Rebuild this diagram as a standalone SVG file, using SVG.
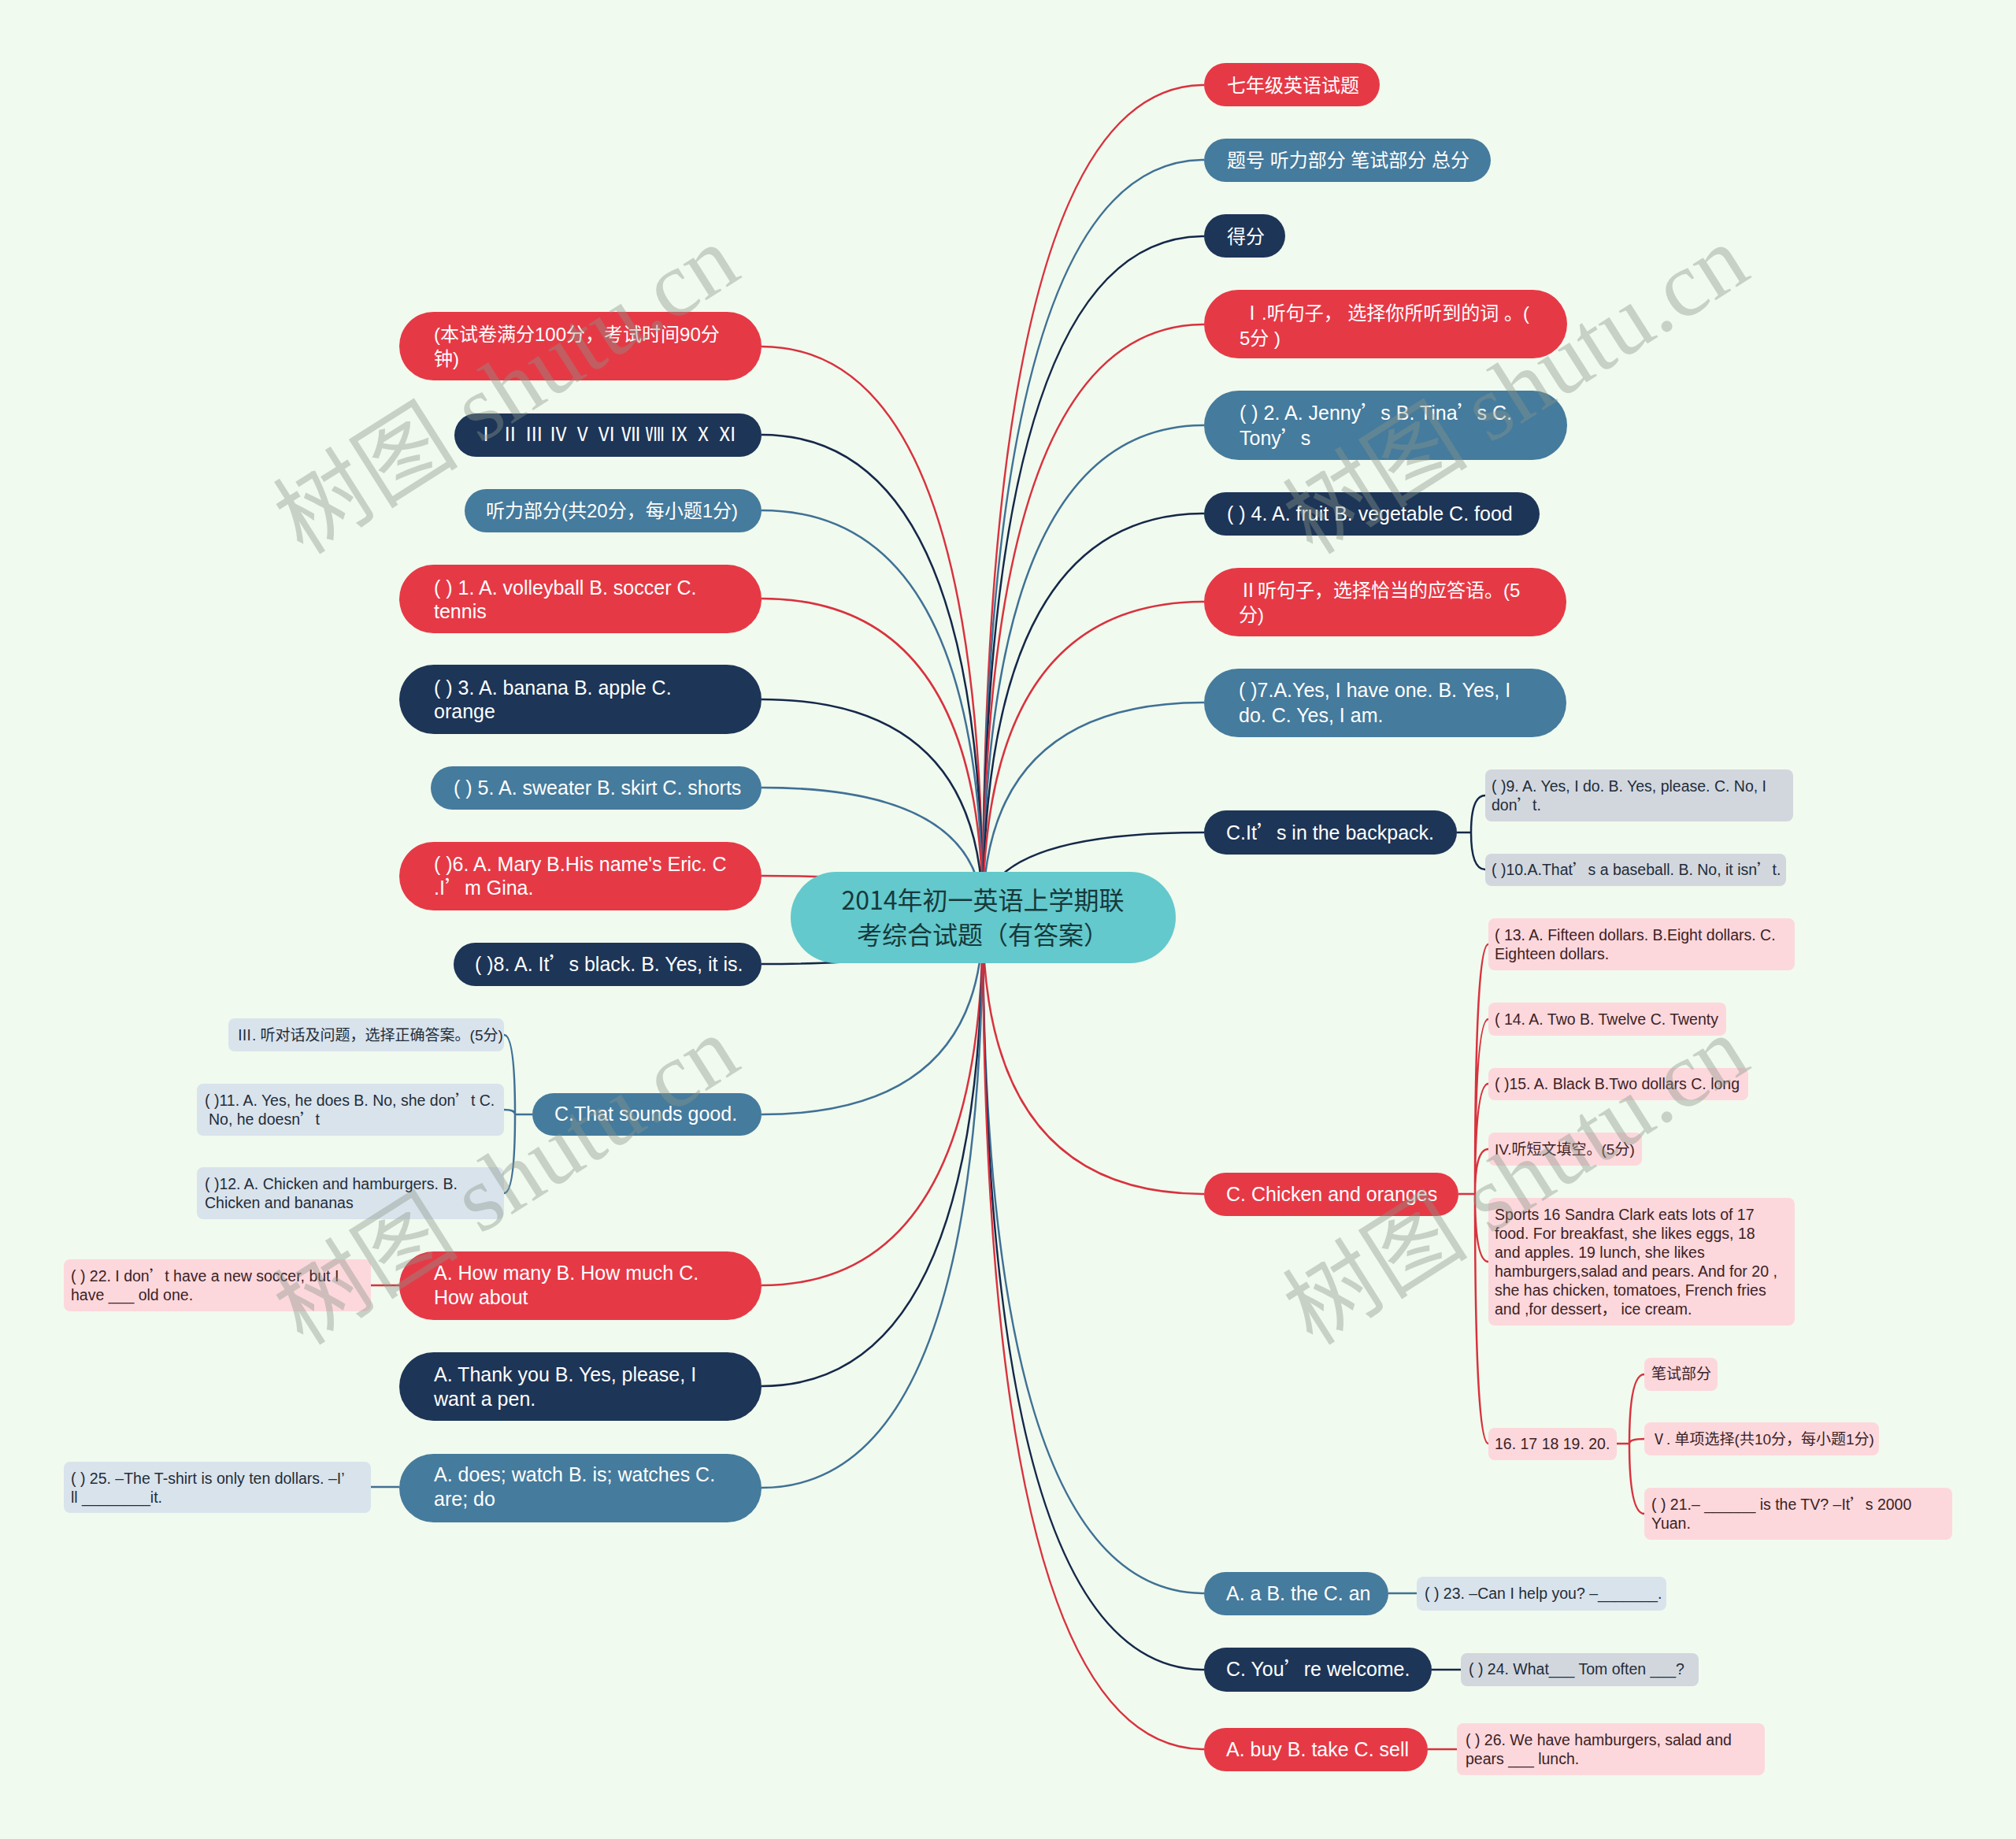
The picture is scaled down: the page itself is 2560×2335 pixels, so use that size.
<svg xmlns="http://www.w3.org/2000/svg" width="2560" height="2335" viewBox="0 0 2560 2335">
<style>
.bg{fill:#f1faee}
.red{fill:#e63946}.navy{fill:#1d3557}.blue{fill:#457b9d}
.pk{fill:#fcd8dc}.lb{fill:#d9e3ec}.gy{fill:#d2d7de}
.c{fill:none;stroke-width:2.5}
.cr{stroke:#d8323f}.cn{stroke:#14284a}.cb{stroke:#3f7196}
text{font-family:"Liberation Sans","Noto Sans CJK SC",sans-serif}
.q{font-family:"Noto Sans CJK SC",sans-serif}
.t{font-size:25px;fill:#ffffff}
.tc{font-size:24px;fill:#ffffff}
.s{font-size:19.5px}
.sc{font-size:19px}
.sp{fill:#3b2226}.sb{fill:#1f2d3a}
.ctr{font-family:"Noto Sans CJK SC",sans-serif;font-size:32px;fill:#17393b;text-anchor:middle}
.wm{font-family:"Liberation Serif","Noto Sans CJK SC",serif;font-size:118px;fill:#8a968a;opacity:0.4}
</style>
<rect class="bg" x="0" y="0" width="2560" height="2335"/>
<g id="connectors">
<path class="c cr" d="M1248,1165 Q1248,440 967,440"/>
<path class="c cn" d="M1248,1165 Q1248,552 967,552"/>
<path class="c cb" d="M1248,1165 Q1248,648 967,648"/>
<path class="c cr" d="M1248,1165 Q1248,760 967,760"/>
<path class="c cn" d="M1248,1165 Q1248,888 967,888"/>
<path class="c cb" d="M1248,1165 Q1248,1000 967,1000"/>
<path class="c cr" d="M1248,1165 Q1248,1112 967,1112"/>
<path class="c cn" d="M1248,1165 Q1248,1224 967,1224"/>
<path class="c cb" d="M1248,1165 Q1248,1415 967,1415"/>
<path class="c cr" d="M1248,1165 Q1248,1632 967,1632"/>
<path class="c cn" d="M1248,1165 Q1248,1760 967,1760"/>
<path class="c cb" d="M1248,1165 Q1248,1889 967,1889"/>
<path class="c cr" d="M1248,1165 Q1248,108 1529,108"/>
<path class="c cb" d="M1248,1165 Q1248,203 1529,203"/>
<path class="c cn" d="M1248,1165 Q1248,300 1529,300"/>
<path class="c cr" d="M1248,1165 Q1248,412 1529,412"/>
<path class="c cb" d="M1248,1165 Q1248,540 1529,540"/>
<path class="c cn" d="M1248,1165 Q1248,652 1529,652"/>
<path class="c cr" d="M1248,1165 Q1248,764 1529,764"/>
<path class="c cb" d="M1248,1165 Q1248,892 1529,892"/>
<path class="c cn" d="M1248,1165 Q1248,1057 1529,1057"/>
<path class="c cr" d="M1248,1165 Q1248,1516 1529,1516"/>
<path class="c cb" d="M1248,1165 Q1248,2023 1529,2023"/>
<path class="c cn" d="M1248,1165 Q1248,2120 1529,2120"/>
<path class="c cr" d="M1248,1165 Q1248,2221 1529,2221"/>
<path class="c cb" d="M676,1415 H654 M654,1415 Q654,1314 640,1314 M654,1415 Q654,1409 640,1409 M654,1415 Q654,1515 640,1515"/>
<path class="c cr" d="M471,1632 H507"/>
<path class="c cb" d="M471,1888 H507"/>
<path class="c cn" d="M1850,1057 H1868 M1868,1057 Q1868,1010 1886,1010 M1868,1057 Q1868,1104 1886,1104"/>
<path class="c cr" d="M1852,1516 H1873 M1873,1516 Q1873,1199 1890,1199 M1873,1516 Q1873,1294 1890,1294 M1873,1516 Q1873,1376 1890,1376 M1873,1516 Q1873,1459 1890,1459 M1873,1516 Q1873,1602 1890,1602 M1873,1516 Q1873,1833 1890,1833"/>
<path class="c cr" d="M2052,1833 H2069 M2069,1833 Q2069,1745 2088,1745 M2069,1833 Q2069,1827 2088,1827 M2069,1833 Q2069,1922 2088,1922"/>
<path class="c cb" d="M1763,2023 H1799"/>
<path class="c cn" d="M1818,2120 H1855"/>
<path class="c cr" d="M1813,2221 H1850"/>
</g>
<g id="center">
<rect x="1004" y="1107" width="489" height="116" rx="58" fill="#63c9cc"/>
<text class="ctr" x="1248" y="1155">2014年初一英语上学期联</text>
<text class="ctr" x="1248" y="1199">考综合试题（有答案）</text>
</g>
<g id="L1"><rect class="red" x="507" y="396" width="460" height="87" rx="43.5"/>
<text class="tc" x="551" y="433">(本试卷满分100分，考试时间90分</text><text class="tc" x="551" y="464">钟)</text></g>
<g id="L2"><rect class="navy" x="577" y="525" width="390" height="55" rx="27.5"/>
<text class="tc" x="605" y="560">Ⅰ Ⅱ Ⅲ Ⅳ Ⅴ Ⅵ Ⅶ Ⅷ Ⅸ Ⅹ Ⅺ</text></g>
<g id="L3"><rect class="blue" x="590" y="621" width="377" height="55" rx="27.5"/>
<text class="tc" x="617" y="657">听力部分(共20分，每小题1分)</text></g>
<g id="L4"><rect class="red" x="507" y="717" width="460" height="87" rx="43.5"/>
<text class="t" x="551" y="755">( ) 1. A. volleyball B. soccer C.</text><text class="t" x="551" y="785">tennis</text></g>
<g id="L5"><rect class="navy" x="507" y="844" width="460" height="88" rx="44"/>
<text class="t" x="551" y="882">( ) 3. A. banana B. apple C.</text><text class="t" x="551" y="912">orange</text></g>
<g id="L6"><rect class="blue" x="547" y="973" width="420" height="55" rx="27.5"/>
<text class="t" x="576" y="1009">( ) 5. A. sweater B. skirt C. shorts</text></g>
<g id="L7"><rect class="red" x="507" y="1069" width="460" height="87" rx="43.5"/>
<text class="t" x="551" y="1106">( )6. A. Mary B.His name's Eric. C</text><text class="t" x="551" y="1136">.I<tspan class="q">’</tspan>m Gina.</text></g>
<g id="L8"><rect class="navy" x="576" y="1197" width="391" height="55" rx="27.5"/>
<text class="t" x="603" y="1233">( )8. A. It<tspan class="q">’</tspan>s black. B. Yes, it is.</text></g>
<g id="L9"><rect class="blue" x="676" y="1388" width="291" height="54" rx="27"/>
<text class="t" x="704" y="1423">C.That sounds good.</text></g>
<g id="L10"><rect class="red" x="507" y="1589" width="460" height="87" rx="43.5"/>
<text class="t" x="551" y="1625">A. How many B. How much C.</text><text class="t" x="551" y="1656">How about</text></g>
<g id="L11"><rect class="navy" x="507" y="1717" width="460" height="87" rx="43.5"/>
<text class="t" x="551" y="1754">A. Thank you B. Yes, please, I</text><text class="t" x="551" y="1785">want a pen.</text></g>
<g id="L12"><rect class="blue" x="507" y="1846" width="460" height="87" rx="43.5"/>
<text class="t" x="551" y="1881">A. does; watch B. is; watches C.</text><text class="t" x="551" y="1912">are; do</text></g>
<g id="S3"><rect class="lb" x="290" y="1293" width="350" height="42" rx="8"/>
<text class="sc sb" x="301" y="1321">Ⅲ. 听对话及问题，选择正确答案。(5分)</text></g>
<g id="S11"><rect class="lb" x="250" y="1376" width="390" height="66" rx="8"/>
<text class="s sb" x="260" y="1404">( )11. A. Yes, he does B. No, she don<tspan class="q">’</tspan>t C.</text><text class="s sb" x="265" y="1428">No, he doesn<tspan class="q">’</tspan>t</text></g>
<g id="S12"><rect class="lb" x="250" y="1482" width="390" height="66" rx="8"/>
<text class="s sb" x="260" y="1510">( )12. A. Chicken and hamburgers. B.</text><text class="s sb" x="260" y="1534">Chicken and bananas</text></g>
<g id="S22"><rect class="pk" x="81" y="1599" width="390" height="66" rx="8"/>
<text class="s sp" x="90" y="1627">( ) 22. I don<tspan class="q">’</tspan>t have a new soccer, but I</text><text class="s sp" x="90" y="1651">have ___ old one.</text></g>
<g id="S25"><rect class="lb" x="81" y="1856" width="390" height="65" rx="8"/>
<text class="s sb" x="90" y="1884">( ) 25. –The T-shirt is only ten dollars. –I’</text><text class="s sb" x="90" y="1908">ll ________it.</text></g>
<g id="R1"><rect class="red" x="1529" y="80" width="223" height="55" rx="27.5"/>
<text class="tc" x="1558" y="117">七年级英语试题</text></g>
<g id="R2"><rect class="blue" x="1529" y="176" width="364" height="55" rx="27.5"/>
<text class="tc" x="1558" y="212">题号 听力部分 笔试部分 总分</text></g>
<g id="R3"><rect class="navy" x="1529" y="272" width="103" height="55" rx="27.5"/>
<text class="tc" x="1558" y="309">得分</text></g>
<g id="R4"><rect class="red" x="1529" y="368" width="461" height="87" rx="43.5"/>
<text class="tc" x="1578" y="406">Ⅰ.听句子， 选择你所听到的词 。(</text><text class="tc" x="1574" y="438">5分 )</text></g>
<g id="R5"><rect class="blue" x="1529" y="496" width="461" height="88" rx="44"/>
<text class="t" x="1574" y="533">( ) 2. A. Jenny<tspan class="q">’</tspan>s B. Tina<tspan class="q">’</tspan>s C.</text><text class="t" x="1574" y="565">Tony<tspan class="q">’</tspan>s</text></g>
<g id="R6"><rect class="navy" x="1529" y="625" width="426" height="55" rx="27.5"/>
<text class="t" x="1558" y="661">( ) 4. A. fruit B. vegetable C. food</text></g>
<g id="R7"><rect class="red" x="1529" y="721" width="460" height="87" rx="43.5"/>
<text class="tc" x="1573" y="758">Ⅱ听句子，选择恰当的应答语。(5</text><text class="tc" x="1573" y="789">分)</text></g>
<g id="R8"><rect class="blue" x="1529" y="849" width="460" height="87" rx="43.5"/>
<text class="t" x="1573" y="885">( )7.A.Yes, I have one. B. Yes, I</text><text class="t" x="1573" y="917">do. C. Yes, I am.</text></g>
<g id="R9"><rect class="navy" x="1529" y="1029" width="321" height="56" rx="28"/>
<text class="t" x="1557" y="1066">C.It<tspan class="q">’</tspan>s in the backpack.</text></g>
<g id="R10"><rect class="red" x="1529" y="1489" width="323" height="55" rx="27.5"/>
<text class="t" x="1557" y="1525">C. Chicken and oranges</text></g>
<g id="R11"><rect class="blue" x="1529" y="1996" width="234" height="55" rx="27.5"/>
<text class="t" x="1557" y="2032">A. a B. the C. an</text></g>
<g id="R12"><rect class="navy" x="1529" y="2092" width="289" height="56" rx="28"/>
<text class="t" x="1557" y="2128">C. You<tspan class="q">’</tspan>re welcome.</text></g>
<g id="R13"><rect class="red" x="1529" y="2194" width="284" height="55" rx="27.5"/>
<text class="t" x="1557" y="2230">A. buy B. take C. sell</text></g>
<g id="S9"><rect class="gy" x="1886" y="977" width="391" height="66" rx="8"/>
<text class="s sb" x="1894" y="1005">( )9. A. Yes, I do. B. Yes, please. C. No, I</text><text class="s sb" x="1894" y="1029">don<tspan class="q">’</tspan>t.</text></g>
<g id="S10"><rect class="gy" x="1886" y="1084" width="382" height="41" rx="8"/>
<text class="s sb" x="1894" y="1111">( )10.A.That<tspan class="q">’</tspan>s a baseball. B. No, it isn<tspan class="q">’</tspan>t.</text></g>
<g id="S13"><rect class="pk" x="1890" y="1166" width="389" height="66" rx="8"/>
<text class="s sp" x="1898" y="1194">( 13. A. Fifteen dollars. B.Eight dollars. C.</text><text class="s sp" x="1898" y="1218">Eighteen dollars.</text></g>
<g id="S14"><rect class="pk" x="1890" y="1273" width="302" height="42" rx="8"/>
<text class="s sp" x="1898" y="1301">( 14. A. Two B. Twelve C. Twenty</text></g>
<g id="S15"><rect class="pk" x="1890" y="1356" width="330" height="41" rx="8"/>
<text class="s sp" x="1898" y="1383">( )15. A. Black B.Two dollars C. long</text></g>
<g id="SIV"><rect class="pk" x="1890" y="1438" width="195" height="42" rx="8"/>
<text class="sc sp" x="1898" y="1466">IV.听短文填空。(5分)</text></g>
<g id="S16"><rect class="pk" x="1890" y="1521" width="389" height="162" rx="8"/>
<text class="s sp" x="1898" y="1549">Sports 16 Sandra Clark eats lots of 17</text>
<text class="s sp" x="1898" y="1573">food. For breakfast, she likes eggs, 18</text>
<text class="s sp" x="1898" y="1597">and apples. 19 lunch, she likes</text>
<text class="s sp" x="1898" y="1621">hamburgers,salad and pears. And for 20 ,</text>
<text class="s sp" x="1898" y="1645">she has chicken, tomatoes, French fries</text>
<text class="s sp" x="1898" y="1669">and ,for dessert， ice cream.</text></g>
<g id="S1620"><rect class="pk" x="1890" y="1813" width="163" height="41" rx="8"/>
<text class="s sp" x="1898" y="1840">16. 17 18 19. 20.</text></g>
<g id="SBS"><rect class="pk" x="2088" y="1724" width="93" height="42" rx="8"/>
<text class="sc sp" x="2097" y="1751">笔试部分</text></g>
<g id="SV"><rect class="pk" x="2088" y="1806" width="298" height="42" rx="8"/>
<text class="sc sp" x="2097" y="1834">Ⅴ. 单项选择(共10分，每小题1分)</text></g>
<g id="S21"><rect class="pk" x="2088" y="1889" width="391" height="66" rx="8"/>
<text class="s sp" x="2097" y="1917">( ) 21.– ______ is the TV? –It<tspan class="q">’</tspan>s 2000</text><text class="s sp" x="2097" y="1941">Yuan.</text></g>
<g id="S23"><rect class="lb" x="1799" y="2002" width="317" height="43" rx="8"/>
<text class="s sb" x="1809" y="2030">( ) 23. –Can I help you? –_______.</text></g>
<g id="S24"><rect class="gy" x="1855" y="2099" width="302" height="42" rx="8"/>
<text class="s sb" x="1865" y="2126">( ) 24. What___ Tom often ___?</text></g>
<g id="S26"><rect class="pk" x="1850" y="2188" width="391" height="66" rx="8"/>
<text class="s sp" x="1861" y="2216">( ) 26. We have hamburgers, salad and</text><text class="s sp" x="1861" y="2240">pears ___ lunch.</text></g>
<g id="watermark">
<text class="wm" transform="translate(385,706) rotate(-32.4)">树图 shutu.cn</text>
<text class="wm" transform="translate(1667,706) rotate(-32.4)">树图 shutu.cn</text>
<text class="wm" transform="translate(385,1710) rotate(-32.4)">树图 shutu.cn</text>
<text class="wm" transform="translate(1667,1710) rotate(-32.4)">树图 shutu.cn</text>
</g>
</svg>
